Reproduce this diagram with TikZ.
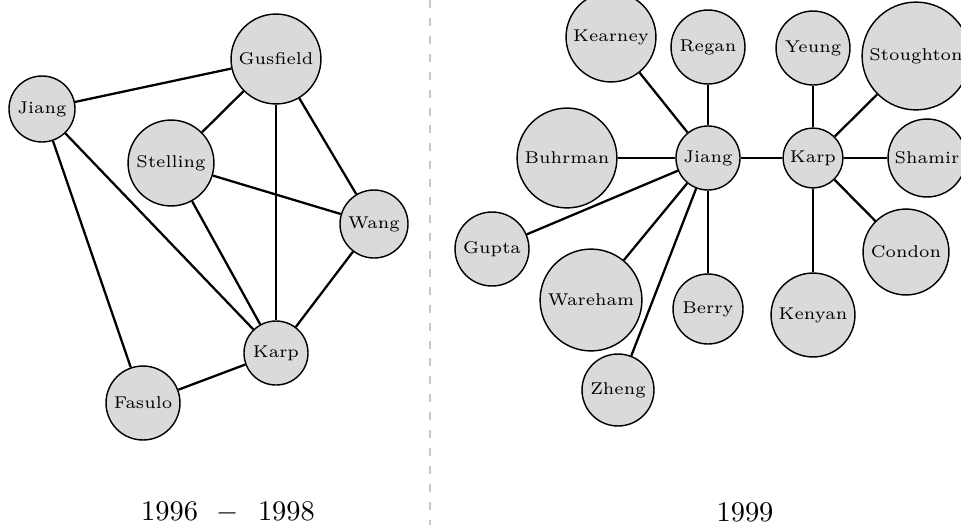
\documentclass[tikz,border=0pt]{standalone}
\usepackage{tikz}
\usetikzlibrary{positioning,shapes}
\definecolor{nodegray}{RGB}{217,219,219}
\definecolor{sepgray}{RGB}{200,200,200}

\begin{document}
\begin{tikzpicture}[
  x=0.3515pt, y=-0.3515pt,
  mynode/.style={draw,circle,fill=nodegray,line width=0.5pt,inner sep=0pt,
    minimum size=#1,font=\fontsize{6}{7}\selectfont},
  link/.style={line width=0.8pt},
  yearlabel/.style={font=\normalsize}
]
\useasboundingbox (0,0) rectangle (961,525);

% 1996 - 1998
\node[mynode=31.6pt] (gusfield) at (276,59) {Gusfield};
\node[mynode=23.2pt] (jiangA) at (42,109) {Jiang};
\node[mynode=30.2pt] (stelling) at (171,163) {Stelling};
\node[mynode=23.9pt] (wang) at (374,224) {Wang};
\node[mynode=22.5pt] (karpA) at (276,353) {Karp};
\node[mynode=26pt] (fasulo) at (143,403) {Fasulo};
\node[yearlabel] (yearA) at (228,512) {1996\ \ $-$\ \ 1998};

\path[link] (jiangA) edge (gusfield)
(jiangA) edge (karpA)
(jiangA) edge (fasulo)
(gusfield) edge (stelling)
(gusfield) edge (karpA)
(gusfield) edge (wang)
(stelling) edge (wang)
(stelling) edge (karpA)
(wang) edge (karpA)
(karpA) edge (fasulo);

\draw[sepgray,line width=0.4pt,dash pattern=on 2.8pt off 3.5pt] (430,0) -- (430,525);

% 1999
\node[mynode=22.5pt] (jiangB) at (708,158) {Jiang};
\node[mynode=21pt] (karpB) at (813,158) {Karp};
\node[mynode=31.6pt] (kearney) at (611,37) {Kearney};
\node[mynode=26pt] (regan) at (708,47) {Regan};
\node[mynode=26pt] (yeung) at (813,48) {Yeung};
\node[mynode=37.9pt] (stoughton) at (916,56) {Stoughton};
\node[mynode=35.1pt] (buhrman) at (567,158) {Buhrman};
\node[mynode=27.4pt] (shamir) at (927,158) {Shamir};
\node[mynode=26pt] (gupta) at (492,249) {Gupta};
\node[mynode=30.2pt] (condon) at (906,252) {Condon};
\node[mynode=35.8pt] (wareham) at (591,300) {Wareham};
\node[mynode=24.6pt] (berry) at (708,309) {Berry};
\node[mynode=29.5pt] (kenyan) at (813,315) {Kenyan};
\node[mynode=25.3pt] (zheng) at (618,390) {Zheng};
\node[yearlabel] (yearB) at (745,512) {1999};

\path[link] (jiangB) edge (karpB)
(jiangB) edge (kearney)
(jiangB) edge (regan)
(jiangB) edge (buhrman)
(jiangB) edge (gupta)
(jiangB) edge (wareham)
(jiangB) edge (zheng)
(jiangB) edge (berry)
(karpB) edge (yeung)
(karpB) edge (stoughton)
(karpB) edge (shamir)
(karpB) edge (condon)
(karpB) edge (kenyan);
\end{tikzpicture}
\end{document}
